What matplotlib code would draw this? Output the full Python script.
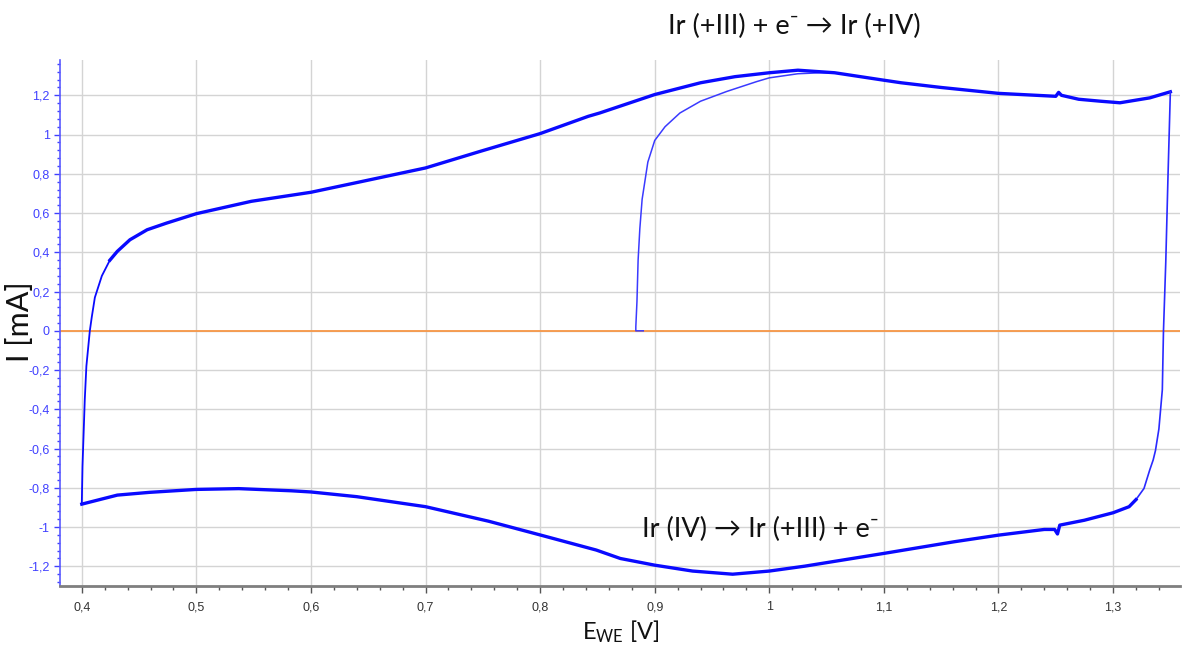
import matplotlib
matplotlib.use("Agg")
import matplotlib.pyplot as plt
from matplotlib.ticker import MultipleLocator, FuncFormatter

# ---- data ----
# first (initial) anodic scan starting at open circuit
init_E = [0.890, 0.8835, 0.8835, 0.8845, 0.8855, 0.887, 0.889, 0.894, 0.900, 0.909, 0.922, 0.940, 0.963, 0.989, 1.000, 1.025, 1.045, 1.060]
init_I = [0.000, 0.000, 0.020, 0.150, 0.360, 0.520, 0.670, 0.860, 0.970, 1.040, 1.110, 1.170, 1.220, 1.270, 1.289, 1.310, 1.315, 1.313]

# anodic scan of steady cycles (0.4 V -> 1.35 V)
anod_E = [0.400, 0.4006, 0.4026, 0.404, 0.4055, 0.407, 0.4087, 0.4114, 0.4175, 0.4245, 0.431, 0.442, 0.457,
          0.474, 0.500, 0.548, 0.600, 0.638, 0.700, 0.748, 0.800, 0.842, 0.852, 0.900, 0.940, 0.970, 1.000, 1.025,
          1.057, 1.100, 1.115, 1.150, 1.200, 1.250, 1.2525, 1.255, 1.270, 1.289, 1.306, 1.332, 1.350]
anod_I = [-0.880, -0.690, -0.350, -0.180, -0.090, 0.000, 0.070, 0.170, 0.280, 0.360, 0.405, 0.464, 0.515,
          0.549, 0.597, 0.660, 0.706, 0.753, 0.830, 0.915, 1.005, 1.093, 1.110, 1.204, 1.264, 1.295, 1.315, 1.328,
          1.315, 1.277, 1.264, 1.240, 1.210, 1.195, 1.215, 1.200, 1.180, 1.170, 1.162, 1.187, 1.218]

# reverse at the upper vertex and cathodic scan (1.35 V -> 0.4 V)
cath_E = [1.350, 1.348, 1.346, 1.344, 1.3435, 1.343, 1.340, 1.337, 1.335, 1.332, 1.327, 1.320, 1.314, 1.300, 1.275,
          1.2535, 1.2515, 1.249, 1.240, 1.200, 1.161, 1.100, 1.031, 1.000, 0.968, 0.933, 0.900, 0.870, 0.849,
          0.800, 0.755, 0.700, 0.640, 0.600, 0.583, 0.537, 0.500, 0.459, 0.431, 0.400]
cath_I = [1.218, 0.800, 0.350, 0.000, -0.148, -0.300, -0.500, -0.610, -0.658, -0.709, -0.803, -0.860, -0.896, -0.927, -0.965,
          -0.990, -1.035, -1.012, -1.012, -1.041, -1.075, -1.134, -1.199, -1.224, -1.240, -1.224, -1.194, -1.160, -1.117,
          -1.040, -0.970, -0.896, -0.845, -0.821, -0.815, -0.804, -0.808, -0.823, -0.837, -0.883]

x_ticks = [0.4, 0.5, 0.6, 0.7, 0.8, 0.9, 1.0, 1.1, 1.2, 1.3]
y_ticks = [-1.2, -1.0, -0.8, -0.6, -0.4, -0.2, 0.0, 0.2, 0.4, 0.6, 0.8, 1.0, 1.2]

label_top = "Ir (+III) + e\u207b \u2192 Ir (+IV)"
label_bot = "Ir (IV) \u2192 Ir (+III) + e\u207b"

# ---- figure ----
plt.rcParams['mathtext.fontset'] = 'custom'
plt.rcParams['mathtext.rm'] = 'Lato'
plt.rcParams['mathtext.it'] = 'Lato'

fig = plt.figure(figsize=(11.84, 6.5), dpi=100)
ax = fig.add_axes([0.0507, 0.0985, 0.946, 0.8092])

ax.set_xlim(0.381, 1.3585)
ax.set_ylim(-1.30, 1.38)

ax.axhline(0, color='#f79646', lw=1.3, zorder=2)

blue = '#0a0aff'
ax.plot(init_E, init_I, color='#3a3aff', lw=1.1, zorder=3)
ax.plot(anod_E[:10], anod_I[:10], color=blue, lw=1.3, zorder=3)
ax.plot(anod_E[9:], anod_I[9:], color=blue, lw=2.4, zorder=3)
ax.plot(cath_E[:12], cath_I[:12], color='#2a2aff', lw=1.2, zorder=3)
ax.plot(cath_E[11:], cath_I[11:], color=blue, lw=2.4, zorder=3)

ax.set_xticks(x_ticks)
ax.set_yticks(y_ticks)
ax.xaxis.set_minor_locator(MultipleLocator(0.02))
ax.yaxis.set_minor_locator(MultipleLocator(0.04))
fmt = FuncFormatter(lambda v, p: ('%g' % round(v, 2)).replace('.', ',') if abs(v) > 1e-9 else '0')
ax.xaxis.set_major_formatter(fmt)
ax.yaxis.set_major_formatter(fmt)

ax.grid(True, which='major', color='#d4d4d4', lw=1.0, zorder=0)
ax.set_axisbelow(True)

for s in ['top', 'right']:
    ax.spines[s].set_visible(False)
ax.spines['left'].set_color('#5a5aff')
ax.spines['left'].set_linewidth(1.2)
ax.spines['bottom'].set_color('#7f7f7f')
ax.spines['bottom'].set_linewidth(2.0)

ax.tick_params(axis='y', which='major', colors='#4040ff', labelsize=9, length=4, width=1)
ax.tick_params(axis='y', which='minor', colors='#4040ff', length=2.5, width=1)
ax.tick_params(axis='x', which='major', colors='#555555', labelcolor='#333333', labelsize=9, length=5, width=1, pad=6)
ax.tick_params(axis='x', which='minor', colors='#555555', length=3, width=1)
for t in ax.get_yticklabels() + ax.get_xticklabels():
    t.set_family(['Liberation Sans Narrow', 'Liberation Sans', 'DejaVu Sans'])

fig.text(0.017, 0.505, 'I [mA]', rotation=90, ha='center', va='center', fontsize=22,
         family=['Lato', 'DejaVu Sans'], color='#111111')
fig.text(0.5245, 0.028, r'$\mathrm{E_{WE}}$ [V]', ha='center', va='center', fontsize=17,
         family=['Lato', 'DejaVu Sans'], color='#111111')

fig.text(0.671, 0.960, label_top, ha='center', va='center', fontsize=19.5,
         family=['Lato', 'DejaVu Sans'], color='#111111')
fig.text(0.642, 0.185, label_bot, ha='center', va='center', fontsize=19.5,
         family=['Lato', 'DejaVu Sans'], color='#111111', zorder=5)

fig.savefig('out.png', dpi=100)
